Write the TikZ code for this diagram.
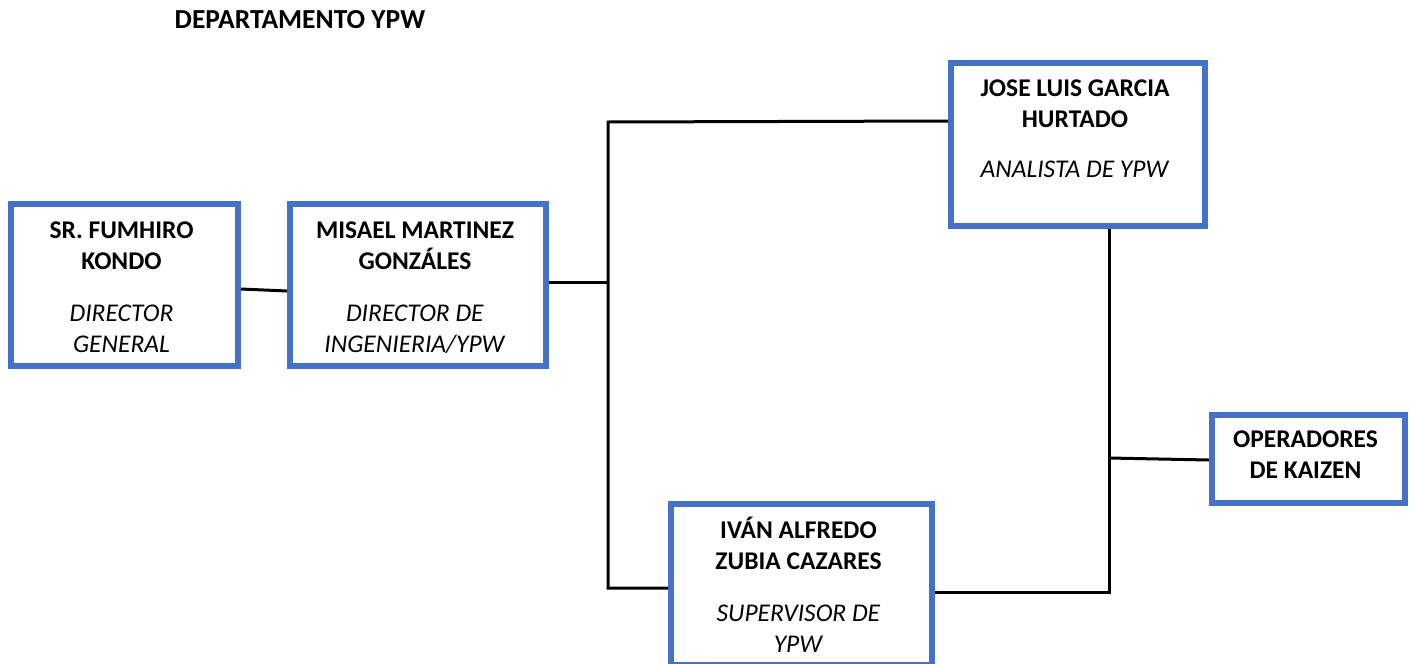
\documentclass[tikz,border=0pt]{standalone}
\usepackage{fontspec}
\setmainfont{Carlito}
\definecolor{boxblue}{HTML}{4472C4}
\begin{document}
\begin{tikzpicture}[x=1pt,y=-1pt,
  orgbox/.style={draw=boxblue,line width=6pt,rectangle,inner sep=0pt,anchor=north west},
  orgtext/.style={align=center,anchor=base,inner sep=0pt,font=\fontsize{25.5}{31}\selectfont},
  conn/.style={draw=black,line width=3pt}]
\useasboundingbox (0,0) rectangle (1409,664);
% title
\node[anchor=base,inner sep=0pt,font=\fontsize{27.5}{31}\selectfont\bfseries] (title) at (300,28) {DEPARTAMENTO YPW};
% boxes
\node[orgbox,minimum width=227pt,minimum height=162pt] (A) at (8,201) {};
\node[orgbox,minimum width=256pt,minimum height=162pt] (B) at (287,201) {};
\node[orgbox,minimum width=254pt,minimum height=163pt] (C) at (948,60) {};
\node[orgbox,minimum width=261pt,minimum height=161pt] (D) at (668,501) {};
\node[orgbox,minimum width=193pt,minimum height=88pt] (E) at (1209,412) {};
% texts (anchored at the baseline of their last line)
\node[orgtext] (tA) at (121.5,352) {\textbf{SR. FUMHIRO}\\\textbf{KONDO}\\[21pt]\textit{DIRECTOR}\\\textit{GENERAL}};
\node[orgtext] (tB) at (415,352) {\textbf{MISAEL MARTINEZ}\\\textbf{GONZÁLES}\\[21pt]\textit{DIRECTOR DE}\\\textit{INGENIERIA/YPW}};
\node[orgtext] (tC) at (1075,177) {\textbf{JOSE LUIS GARCIA}\\\textbf{HURTADO}\\[19pt]\textit{ANALISTA DE YPW}};
\node[orgtext] (tD) at (798.5,652) {\textbf{IVÁN ALFREDO}\\\textbf{ZUBIA CAZARES}\\[21pt]\textit{SUPERVISOR DE}\\\textit{YPW}};
\node[orgtext] (tE) at (1305.5,478) {\textbf{OPERADORES}\\\textbf{DE KAIZEN}};
% junctions
\coordinate (J1) at (608,282);
\coordinate (Jtop) at (608,122);
\coordinate (Jbot) at (608,588);
\coordinate (K1) at (1109,592);
\coordinate (K2) at (1109,458);
% connectors
\draw[conn] (A.east |- 0,289) -- (B.west |- 0,291);
\draw[conn] (B.east |- J1) -- (J1);
\draw[conn] (C.west |- 0,121) -- (Jtop) -- (Jbot) -- (D.west |- Jbot);
\draw[conn] (D.east |- K1) -- (K1) -- (K1 |- C.south);
\draw[conn] (K2) -- (E.west |- 0,460);
\end{tikzpicture}
\end{document}
